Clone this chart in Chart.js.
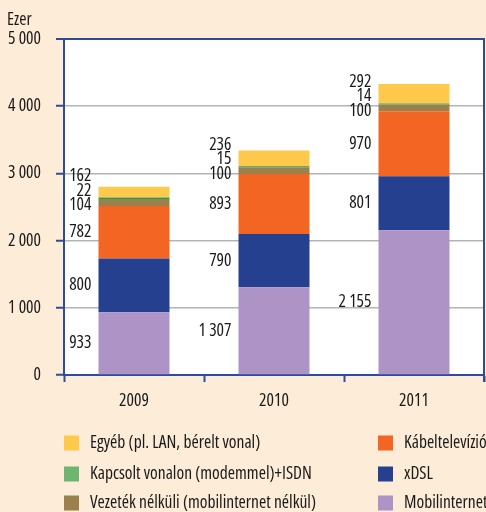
<!DOCTYPE html>
<html>
<head>
<meta charset="utf-8">
<script src="https://cdn.jsdelivr.net/npm/chart.js@4.4.1/dist/chart.umd.min.js"></script>
<style>
  html, body { margin: 0; padding: 0; background: #fdedd8; }
  #wrap { width: 486px; height: 512px; }
</style>
</head>
<body>
<div id="wrap"><canvas id="netChart" width="486" height="512"></canvas></div>
<script>
// adatok (ezer előfizetés)
const years = ['2009', '2010', '2011'];
const mobilinternet = [933, 1307, 2155];
const xdsl = [800, 790, 801];
const kabeltv = [782, 893, 970];
const vezetekNelkuli = [104, 100, 100];
const kapcsolt = [22, 15, 14];
const egyeb = [162, 236, 292];
const yTicks = [0, 1000, 2000, 3000, 4000, 5000];

const FAMILY = "'Open Sans', 'DejaVu Sans', sans-serif";
const WEIGHT = '500 condensed';
const SIZE = 17.5;
const CSSFONT = WEIGHT + ' ' + SIZE + 'px ' + FAMILY;
const BLUE = '#2e4c9c';
const TEXT = '#1a1a1a';

// szóközzel tagolt ezresek
const fmt = v => String(v).replace(/\B(?=(\d{3})+(?!\d))/g, ' ');

Chart.defaults.font.family = FAMILY;
Chart.defaults.font.size = SIZE;
Chart.defaults.font.weight = WEIGHT;
Chart.defaults.color = TEXT;

const datasets = [
  { label: 'Mobilinternet', data: mobilinternet, backgroundColor: '#ad93c6' },
  { label: 'xDSL', data: xdsl, backgroundColor: '#24408f' },
  { label: 'Kábeltelevízió', data: kabeltv, backgroundColor: '#f26522' },
  { label: 'Vezeték nélküli (mobilinternet nélkül)', data: vezetekNelkuli, backgroundColor: '#9c804c' },
  { label: 'Kapcsolt vonalon (modemmel)+ISDN', data: kapcsolt, backgroundColor: '#22a04c', swatch: '#6db571' },
  { label: 'Egyéb (pl. LAN, bérelt vonal)', data: egyeb, backgroundColor: '#ffc94b' }
];
datasets.forEach(d => { d.barPercentage = 0.507; d.categoryPercentage = 1; });

// jelmagyarázat: bal oszlop, jobb oszlop
const legendCols = [
  ['Egyéb (pl. LAN, bérelt vonal)', 'Kapcsolt vonalon (modemmel)+ISDN', 'Vezeték nélküli (mobilinternet nélkül)'],
  ['Kábeltelevízió', 'xDSL', 'Mobilinternet']
];

const frame = {
  id: 'frame',
  beforeDraw(chart) {
    const a = chart.chartArea, c = chart.ctx;
    c.save();
    c.fillStyle = '#ffffff';
    c.fillRect(a.left, a.top, a.right - a.left, a.bottom - a.top);
    c.restore();
  },
  afterDraw(chart) {
    const a = chart.chartArea, c = chart.ctx;
    c.save();
    c.strokeStyle = BLUE;
    c.lineWidth = 2;
    c.beginPath();
    c.moveTo(a.right, a.top - 1);
    c.lineTo(a.right, a.bottom + 7);
    c.stroke();
    c.fillStyle = TEXT;
    c.font = CSSFONT;
    c.textBaseline = 'middle';
    c.textAlign = 'left';
    c.fillText('Ezer', 7, 20);
    c.restore();
  }
};

const valueLabels = {
  id: 'valueLabels',
  afterDatasetsDraw(chart) {
    const c = chart.ctx;
    c.save();
    c.font = CSSFONT;
    c.fillStyle = TEXT;
    c.textAlign = 'right';
    c.textBaseline = 'middle';
    years.forEach((yr, i) => {
      const items = chart.data.datasets.map((ds, d) => {
        const el = chart.getDatasetMeta(d).data[i];
        return { y: (el.y + el.base) / 2, x: el.x - el.width / 2 - 7, text: fmt(ds.data[i]) };
      });
      // egymásra csúszó feliratok széthúzása, inkább felfelé
      const gap = 14.5;
      for (let it = 0; it < 300; it++) {
        for (let k = 0; k < items.length - 1; k++) {
          const lo = items[k], hi = items[k + 1];
          const d = lo.y - hi.y;
          if (d < gap) {
            lo.y += (gap - d) * 0.2;
            hi.y -= (gap - d) * 0.8;
          }
        }
      }
      items.forEach(l => c.fillText(l.text, l.x, l.y));
    });
    c.restore();
  }
};

const legendBox = {
  id: 'legendBox',
  afterDraw(chart) {
    const c = chart.ctx;
    const byLabel = {};
    chart.data.datasets.forEach(d => { byLabel[d.label] = d; });
    const colX = [64, 378];
    const rowY = [443, 474, 503];
    c.save();
    c.font = CSSFONT;
    c.textBaseline = 'middle';
    c.textAlign = 'left';
    legendCols.forEach((col, ci) => {
      col.forEach((lab, ri) => {
        const ds = byLabel[lab];
        c.fillStyle = ds.swatch || ds.backgroundColor;
        c.fillRect(colX[ci], rowY[ri] - 7.5, 15, 15);
        c.fillStyle = TEXT;
        c.fillText(lab, colX[ci] + 26, rowY[ri]);
      });
    });
    c.restore();
  }
};

const ctx = document.getElementById('netChart').getContext('2d');
new Chart(ctx, {
  type: 'bar',
  data: { labels: years, datasets: datasets },
  options: {
    responsive: false,
    animation: false,
    layout: { padding: { top: 39, right: 2, bottom: 102, left: 0 } },
    plugins: { legend: { display: false }, tooltip: { enabled: false } },
    scales: {
      x: {
        stacked: true,
        grid: { offset: true, drawOnChartArea: false, tickLength: 7, tickColor: BLUE, tickWidth: 2 },
        border: { color: BLUE, width: 2 },
        ticks: { padding: 9, color: TEXT },
        afterFit: s => { s.height = 35; }
      },
      y: {
        stacked: true,
        min: 0,
        max: 5000,
        afterBuildTicks: s => { s.ticks = yTicks.map(v => ({ value: v })); },
        ticks: { padding: 15, color: TEXT, callback: v => fmt(v) },
        grid: {
          color: c => (c.tick && c.tick.value === 5000) ? BLUE : '#b4b4b4',
          lineWidth: c => (c.tick && c.tick.value === 5000) ? 2 : 1.5,
          tickColor: BLUE,
          tickLength: 8,
          tickWidth: 2
        },
        border: { color: BLUE, width: 2 },
        afterFit: s => { s.width = 64; }
      }
    }
  },
  plugins: [frame, valueLabels, legendBox]
});
</script>
</body>
</html>
